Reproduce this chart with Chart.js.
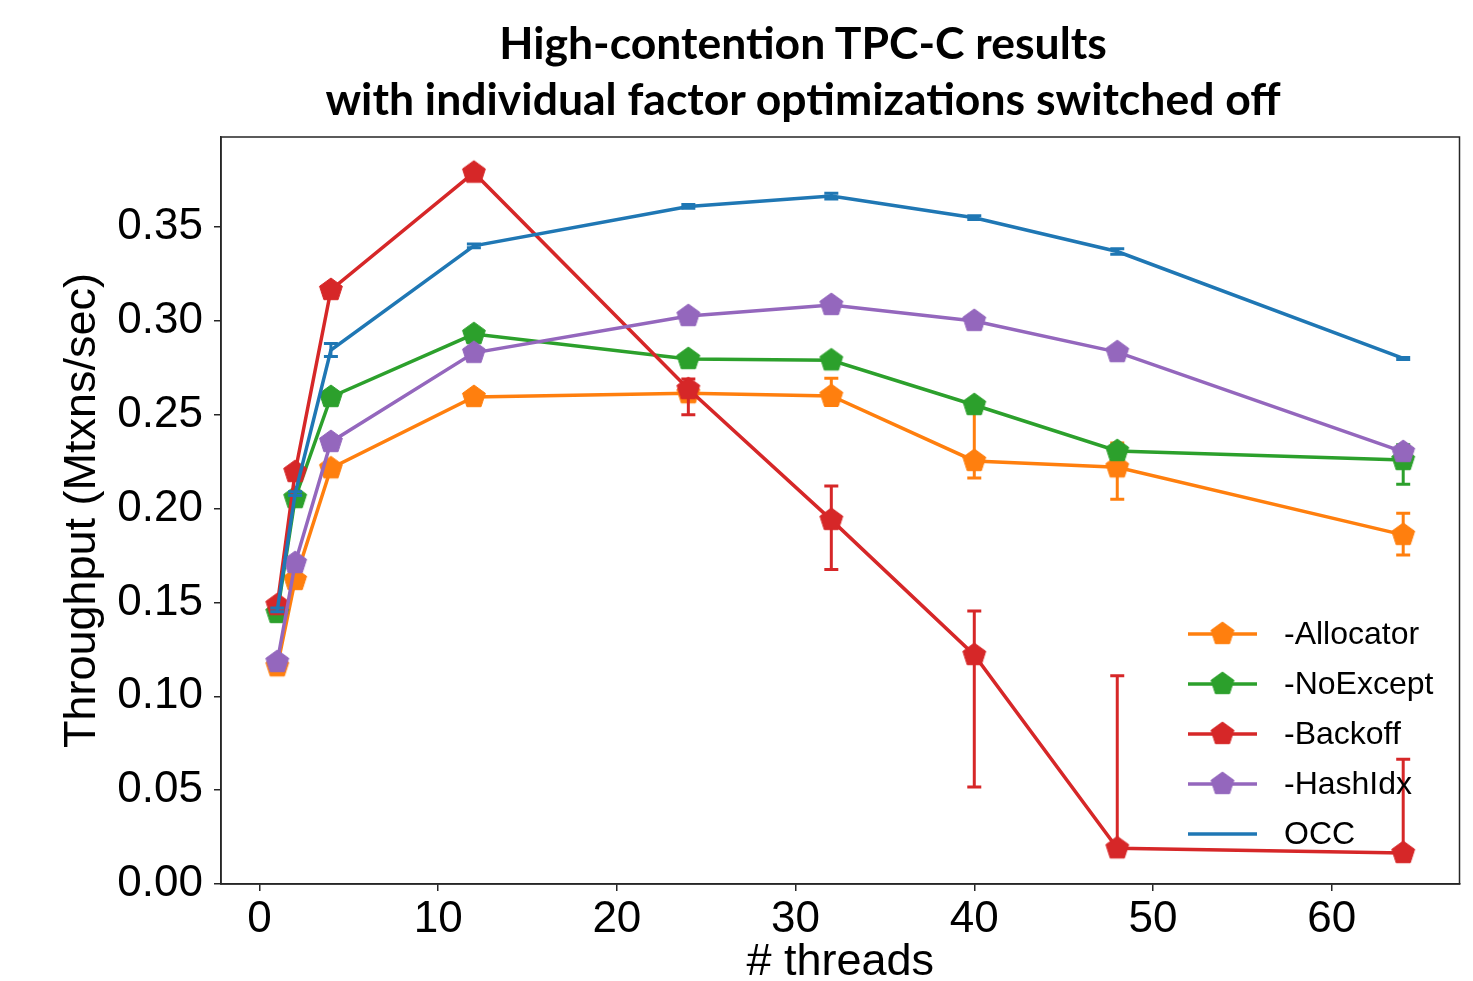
<!DOCTYPE html>
<html>
<head>
<meta charset="utf-8">
<script src="https://cdn.jsdelivr.net/npm/chart.js@4.4.1/dist/chart.umd.min.js"></script>
<style>
  html, body { margin: 0; padding: 0; background: #fff; }
  #wrap { position: relative; width: 1473px; height: 981px; overflow: hidden; }
  #title {
    position: absolute; left: 203px; top: 14px; width: 1200px;
    text-align: center; white-space: nowrap; font-family: Lato, "Open Sans", sans-serif;
    font-weight: 700; font-size: 44.5px; line-height: 56px; color: #000;
  }
  canvas { position: absolute; left: 0; top: 0; }
</style>
</head>
<body>
<div id="wrap">
  <canvas id="chart" width="1473" height="981"></canvas>
  <div id="title">High-contention TPC-C results<br>with individual factor optimizations switched off</div>
</div>
<script>
// x positions (# threads) and tick labels
const threads = [1, 2, 4, 12, 24, 32, 40, 48, 64];
const xTicks = [0, 10, 20, 30, 40, 50, 60];
const yTicks = [0, 0.05, 0.10, 0.15, 0.20, 0.25, 0.30, 0.35];

// throughput (Mtxns/sec)
const allocator   = [0.116, 0.162, 0.2215, 0.2595, 0.2615, 0.260, 0.2254, 0.222, 0.186];
const allocatorLo = [0.114, 0.160, 0.2195, 0.2575, 0.2595, 0.255, 0.2163, 0.205, 0.1753];
const allocatorHi = [0.118, 0.164, 0.2235, 0.2615, 0.2635, 0.2695, 0.255, 0.235, 0.1976];

const noExcept   = [0.1444, 0.2056, 0.2595, 0.293, 0.2797, 0.279, 0.2552, 0.2307, 0.2259];
const noExceptLo = [0.1424, 0.2036, 0.2575, 0.291, 0.2777, 0.277, 0.2532, 0.2287, 0.213];
const noExceptHi = [0.1464, 0.2076, 0.2615, 0.295, 0.2817, 0.281, 0.2572, 0.2327, 0.234];

const backoff   = [0.1486, 0.2195, 0.3165, 0.379, 0.2637, 0.194, 0.122, 0.019, 0.0165];
const backoffLo = [0.1466, 0.2175, 0.3145, 0.377, 0.250, 0.1675, 0.0517, 0.015, 0.013];
const backoffHi = [0.1506, 0.2215, 0.3185, 0.381, 0.269, 0.212, 0.1455, 0.111, 0.0665];

const hashIdx   = [0.1183, 0.171, 0.2355, 0.283, 0.3026, 0.3085, 0.300, 0.2834, 0.2302];
const hashIdxLo = [0.1163, 0.169, 0.2335, 0.281, 0.3006, 0.3065, 0.298, 0.2814, 0.2282];
const hashIdxHi = [0.1203, 0.173, 0.2375, 0.285, 0.3046, 0.3105, 0.302, 0.2854, 0.2322];

const occ   = [0.146, 0.208, 0.2845, 0.340, 0.361, 0.3665, 0.355, 0.337, 0.280];
const occLo = [0.145, 0.207, 0.281, 0.339, 0.360, 0.365, 0.354, 0.3355, 0.2795];
const occHi = [0.147, 0.209, 0.288, 0.341, 0.362, 0.368, 0.356, 0.3385, 0.2805];

const FONT = "'Liberation Sans', Arial, sans-serif";

// matplotlib-style pentagon marker as an image point style
function pentagon(color, r) {
    const c = document.createElement("canvas");
    const s = Math.ceil(r * 2 + 4);
    c.width = s;
    c.height = s;
    const g = c.getContext("2d");
    g.beginPath();
    for (let k = 0; k < 5; k++) {
        const a = -Math.PI / 2 + k * 2 * Math.PI / 5;
        const px = s / 2 + r * Math.cos(a);
        const py = s / 2 + r * Math.sin(a);
        if (k === 0) g.moveTo(px, py); else g.lineTo(px, py);
    }
    g.closePath();
    g.fillStyle = color;
    g.fill();
    g.lineWidth = 1;
    g.strokeStyle = color;
    g.stroke();
    return c;
}

function series(label, values, lo, hi, color, marker, order) {
    return {
        label,
        data: threads.map((t, i) => ({ x: t, y: values[i] })),
        errLo: lo,
        errHi: hi,
        borderColor: color,
        backgroundColor: color,
        borderWidth: 3.5,
        pointStyle: marker ? pentagon(color, 12) : false,
        pointRadius: marker ? 10 : 0,
        pointHoverRadius: marker ? 10 : 0,
        hasMarker: marker,
        tension: 0,
        order,
    };
}

const datasets = [
    series("-Allocator", allocator, allocatorLo, allocatorHi, "#ff7f0e", true, 4),
    series("-NoExcept", noExcept, noExceptLo, noExceptHi, "#2ca02c", true, 3),
    series("-Backoff", backoff, backoffLo, backoffHi, "#d62728", true, 2),
    series("-HashIdx", hashIdx, hashIdxLo, hashIdxHi, "#9467bd", true, 1),
    series("OCC", occ, occLo, occHi, "#1f77b4", false, 0),
];

// error bars drawn under each dataset's own line & markers
const errorBars = {
    id: "errorBars",
    beforeDatasetDraw(chart, args) {
        const ds = chart.data.datasets[args.index];
        const { ctx, chartArea: a, scales: { x, y } } = chart;
        ctx.save();
        ctx.beginPath();
        ctx.rect(a.left, a.top, a.right - a.left, a.bottom - a.top);
        ctx.clip();
        ctx.strokeStyle = ds.borderColor;
        ctx.lineWidth = 3;
        threads.forEach((t, i) => {
            const px = x.getPixelForValue(t);
            const lo = y.getPixelForValue(ds.errLo[i]);
            const hi = y.getPixelForValue(ds.errHi[i]);
            ctx.beginPath();
            ctx.moveTo(px, lo);
            ctx.lineTo(px, hi);
            ctx.moveTo(px - 7, lo);
            ctx.lineTo(px + 7, lo);
            ctx.moveTo(px - 7, hi);
            ctx.lineTo(px + 7, hi);
            ctx.stroke();
        });
        ctx.restore();
    },
};

// axes box and the in-plot legend
const frameAndLegend = {
    id: "frameAndLegend",
    afterDraw(chart) {
        const { ctx, chartArea: a } = chart;
        ctx.save();
        ctx.strokeStyle = "#262626";
        ctx.lineWidth = 1.5;
        ctx.strokeRect(a.left, a.top, a.right - a.left, a.bottom - a.top);

        const x0 = 1188, x1 = 1257, tx = 1284;
        let yy = 634;
        ctx.font = "32px " + FONT;
        ctx.textBaseline = "middle";
        ctx.textAlign = "left";
        chart.data.datasets.forEach((ds) => {
            ctx.strokeStyle = ds.borderColor;
            ctx.lineWidth = 3.5;
            ctx.beginPath();
            ctx.moveTo(x0, yy);
            ctx.lineTo(x1, yy);
            ctx.stroke();
            if (ds.hasMarker) {
                const img = ds.pointStyle;
                ctx.drawImage(img, (x0 + x1) / 2 - img.width / 2, yy - img.height / 2);
            }
            ctx.fillStyle = "#000";
            ctx.fillText(ds.label, tx, yy + 1);
            yy += 50;
        });
        ctx.restore();
    },
};

new Chart(document.getElementById("chart"), {
    type: "line",
    data: { datasets },
    plugins: [errorBars, frameAndLegend],
    options: {
        responsive: false,
        animation: false,
        events: [],
        layout: { padding: { top: 137, right: 7, left: 0, bottom: 0 } },
        plugins: { legend: { display: false }, tooltip: { enabled: false } },
        scales: {
            x: {
                type: "linear",
                min: -2.15,
                max: 67.15,
                afterBuildTicks: (s) => { s.ticks = xTicks.map((v) => ({ value: v })); },
                afterFit: (s) => { s.height = 97; },
                grid: { drawOnChartArea: false, tickLength: 7, color: "#262626", lineWidth: 1.5 },
                border: { color: "#262626", width: 1.5 },
                ticks: {
                    color: "#000",
                    font: { family: FONT, size: 44 },
                    padding: 2,
                    maxRotation: 0,
                    autoSkip: false,
                    callback: (v) => String(v),
                },
                title: {
                    display: true,
                    text: "# threads",
                    color: "#000",
                    font: { family: FONT, size: 45, lineHeight: 0.84 },
                    padding: 0,
                },
            },
            y: {
                type: "linear",
                min: 0,
                max: 0.398,
                afterBuildTicks: (s) => { s.ticks = yTicks.map((v) => ({ value: v })); },
                afterFit: (s) => { s.width = 221; },
                grid: { drawOnChartArea: false, tickLength: 7, color: "#262626", lineWidth: 1.5 },
                border: { color: "#262626", width: 1.5 },
                ticks: {
                    color: "#000",
                    font: { family: FONT, size: 44 },
                    padding: 11,
                    autoSkip: false,
                    callback: (v) => v.toFixed(2),
                },
                title: {
                    display: true,
                    text: "Throughput (Mtxns/sec)",
                    color: "#000",
                    font: { family: FONT, size: 45, lineHeight: 1.2 },
                    padding: { top: 56 },
                },
            },
        },
    },
});
</script>
</body>
</html>
